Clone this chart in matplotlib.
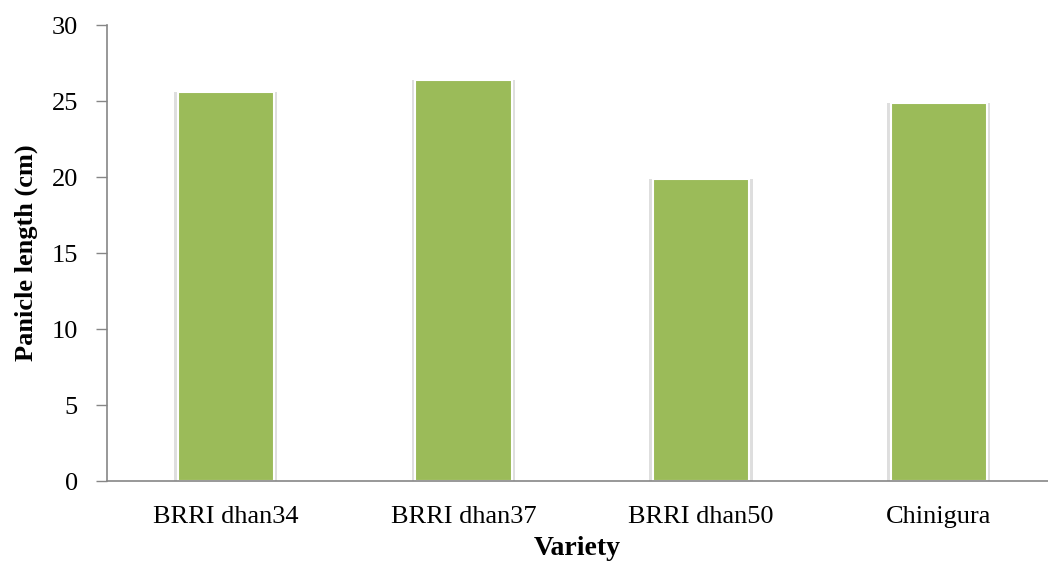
import matplotlib
matplotlib.use('Agg')
import matplotlib.pyplot as plt
import numpy as np

varieties = ['BRRI dhan34', 'BRRI dhan37', 'BRRI dhan50', 'Chinigura']
panicle_length = [25.6, 26.4, 19.85, 24.85]

plt.rcParams['font.family'] = 'Liberation Serif'

fig = plt.figure(figsize=(10.48, 5.62), dpi=100)
ax = fig.add_axes([0.1021, 0.1441, 0.8979, 0.8114])

x = np.arange(len(varieties))
# soft grey halo behind each bar
ax.bar(x, panicle_length, width=0.435, color='#dedede', zorder=1)
ax.bar(x, panicle_length, width=0.405, color='#9BBB59', edgecolor='white',
       linewidth=1.5, zorder=2)

ax.set_xlim(-0.5, 3.46)
ax.set_ylim(0, 30)
ax.set_yticks(range(0, 31, 5))
ax.set_xticks(x)
ax.set_xticklabels(varieties, fontsize=19)
ax.tick_params(axis='x', length=0, pad=18)
ax.tick_params(axis='y', length=8, width=1, color='#868686', labelsize=19, pad=13)

for side in ('top', 'right'):
    ax.spines[side].set_visible(False)
for side in ('left', 'bottom'):
    ax.spines[side].set_color('#868686')
    ax.spines[side].set_linewidth(1.2)

ax.set_ylabel('Panicle length (cm)', fontsize=19, fontweight='bold', labelpad=10)
ax.set_xlabel('Variety', fontsize=20, fontweight='bold', labelpad=6)

fig.savefig('out.png', dpi=100)
